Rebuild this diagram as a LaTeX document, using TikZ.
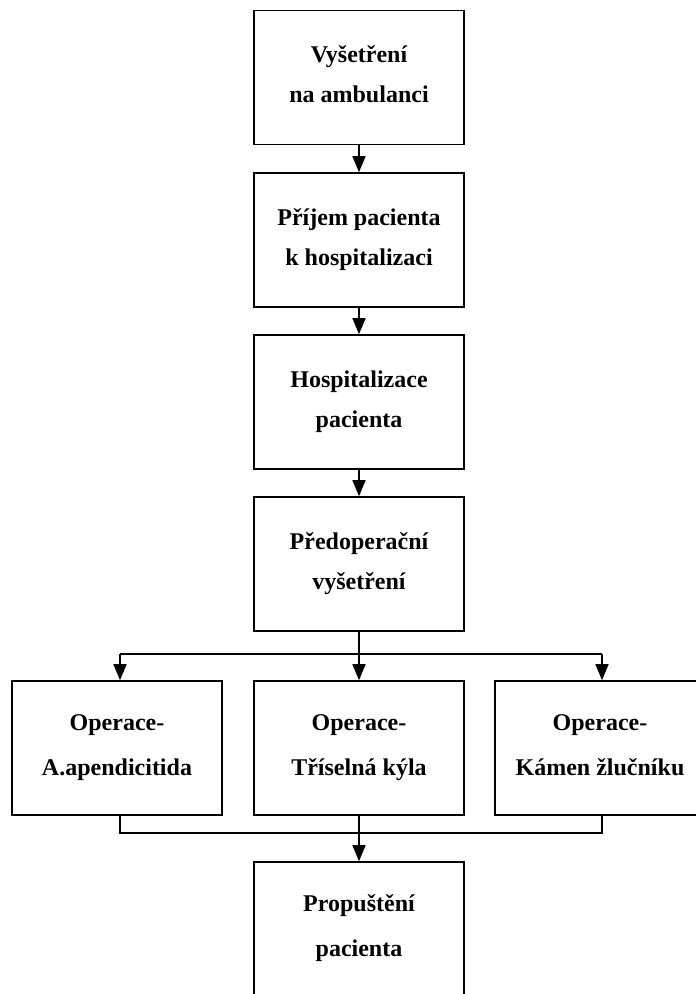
\documentclass[tikz,border=0pt]{standalone}
\usepackage{fontspec}
\setmainfont{Liberation Serif}
\usetikzlibrary{arrows.meta}
\newcommand\zs{\rule[-14pt]{0pt}{38pt}}
\begin{document}
\begin{tikzpicture}[x=1pt,y=-1pt,
  box/.style={draw,line width=1.6pt,minimum width=210pt,minimum height=134pt,
    align=center,inner sep=0pt,font=\bfseries\fontsize{24}{40}\selectfont},
  boxw/.style={box,font=\bfseries\fontsize{24}{45}\selectfont},
  conn/.style={line width=1.6pt},
  arr/.style={conn,-{Triangle[width=13pt,length=16pt]}}]
\useasboundingbox[fill=white] (0,0) rectangle (696,994);
\node[box] (b1) at (359,77.5) {\zs Vyšetření\\\zs na ambulanci};
\node[box] (b2) at (359,240) {\zs Příjem pacienta\\\zs k hospitalizaci};
\node[box] (b3) at (359,402) {\zs Hospitalizace\\\zs pacienta};
\node[box] (b4) at (359,564) {\zs Předoperační\\\zs vyšetření};
\node[boxw] (o1) at (117,748) {\zs Operace-\\\zs A.apendicitida};
\node[boxw] (o2) at (359,748) {\zs Operace-\\\zs Tříselná kýla};
\node[boxw] (o3) at (600,748) {\zs Operace-\\\zs Kámen žlučníku};
\node[boxw] (b5) at (359,929) {\zs Propuštění\\\zs pacienta};
\coordinate (split) at (359,654);
\coordinate (sl) at (120,654);
\coordinate (sr) at (602,654);
\coordinate (ml) at (120,833);
\coordinate (mr) at (602,833);
\draw[arr] (b1) -- (b2);
\draw[arr] (b2) -- (b3);
\draw[arr] (b3) -- (b4);
\draw[conn] (b4.south) -- (split);
\draw[conn] (sl) -- (sr);
\draw[arr] (sl) -- (sl |- o1.north);
\draw[arr] (split) -- (o2.north);
\draw[arr] (sr) -- (sr |- o3.north);
\draw[conn] (ml |- o1.south) -- (ml) -- (mr) -- (mr |- o3.south);
\draw[arr] (o2.south) -- (b5.north);
\end{tikzpicture}
\end{document}
